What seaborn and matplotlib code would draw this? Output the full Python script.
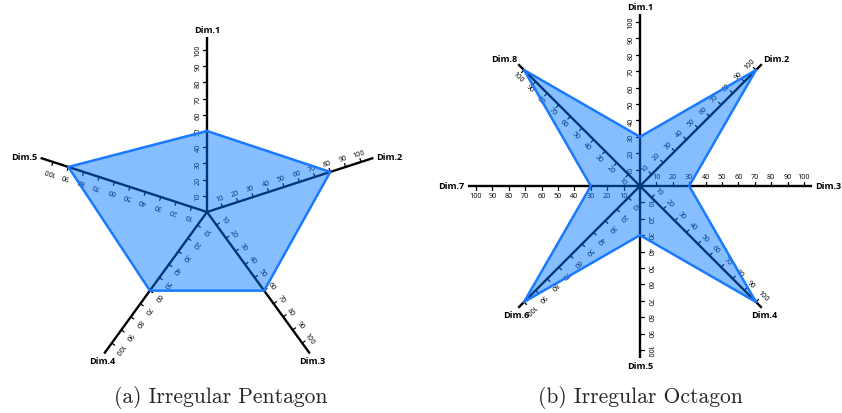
import numpy as np
import pandas as pd
import matplotlib
matplotlib.use('Agg')
import matplotlib.pyplot as plt
import seaborn as sns

# values
pent_dims = ['Dim.1', 'Dim.2', 'Dim.3', 'Dim.4', 'Dim.5']
pent_values = [50, 80, 60, 60, 90]
oct_dims = ['Dim.1', 'Dim.2', 'Dim.3', 'Dim.4', 'Dim.5', 'Dim.6', 'Dim.7', 'Dim.8']
oct_values = [30, 100, 30, 100, 30, 100, 30, 100]
scale_ticks = [10, 20, 30, 40, 50, 60, 70, 80, 90, 100]
captions = ['(a) Irregular Pentagon', '(b) Irregular Octagon']

sns.set_theme(style='white')
plt.rcParams['font.family'] = ['Open Sans', 'DejaVu Sans']

fill_color = '#0076FF'
edge_color = '#1A7AFF'


def radar(ax, dims, values, axis_len, upright):
    n = len(dims)
    deg = (90 - 360.0 / n * np.arange(n)) % 360
    ang = np.deg2rad(deg)
    for a, d, name in zip(ang, deg, dims):
        c, s = np.cos(a), np.sin(a)
        ax.plot([0, axis_len * c], [0, axis_len * s], color='black', lw=1.7,
                zorder=2, solid_capstyle='butt')
        # ticks and numbers go on the counter-clockwise side of each spoke
        px, py = -s, c
        rot = d
        if upright and 90 < rot <= 180:
            rot -= 180
        for t in scale_ticks:
            ax.plot([t * c, t * c + 2.2 * px], [t * s, t * s + 2.2 * py],
                    color='black', lw=0.9, zorder=2)
            ax.text(t * c + 5.5 * px, t * s + 5.5 * py, str(t), rotation=rot,
                    rotation_mode='anchor', ha='center', va='center',
                    fontsize=5.2, color='black', zorder=3)
        # dimension name just past the end of the spoke
        if abs(c) > 0.9:
            ha = 'left' if c > 0 else 'right'
            va = 'center'
            r = axis_len + 2
        elif s > 0:
            ha = 'left' if c > 0.3 else ('right' if c < -0.3 else 'center')
            va = 'bottom'
            r = axis_len + 1 if abs(c) > 0.3 else axis_len + 2
        else:
            ha, va = 'center', 'top'
            r = axis_len + 2
        ax.text(r * c, r * s, name, ha=ha, va=va, fontsize=6.6,
                fontweight='bold', color='black', zorder=6)

    df = pd.DataFrame({'x': np.array(values) * np.cos(ang),
                       'y': np.array(values) * np.sin(ang)})
    ax.fill(df['x'], df['y'], color=fill_color, alpha=0.47, lw=0, zorder=4)
    loop = pd.concat([df, df.iloc[:1]], ignore_index=True)
    sns.lineplot(data=loop, x='x', y='y', sort=False, estimator=None,
                 color=edge_color, lw=1.8, ax=ax, zorder=5)
    ax.set_axis_off()


fig = plt.figure(figsize=(8.42, 4.14), dpi=100)

ax1 = fig.add_axes([0, 0, 0.5, 1])
radar(ax1, pent_dims, pent_values, 108, upright=False)
ax1.set_xlim(-207 / 1.62, (421 - 207) / 1.62)
ax1.set_ylim(-(414 - 213) / 1.62, 213 / 1.62)

ax2 = fig.add_axes([0.5, 0, 0.5, 1])
radar(ax2, oct_dims, oct_values, 105, upright=True)
ax2.set_xlim(-219 / 1.64, (421 - 219) / 1.64)
ax2.set_ylim(-(414 - 187) / 1.64, 187 / 1.64)

fig.text(0.262, 0.039, captions[0], ha='center', va='center', fontsize=15.5,
         family='cmr10')
fig.text(0.761, 0.039, captions[1], ha='center', va='center', fontsize=15.5,
         family='cmr10')

fig.savefig('out.png', dpi=100)
